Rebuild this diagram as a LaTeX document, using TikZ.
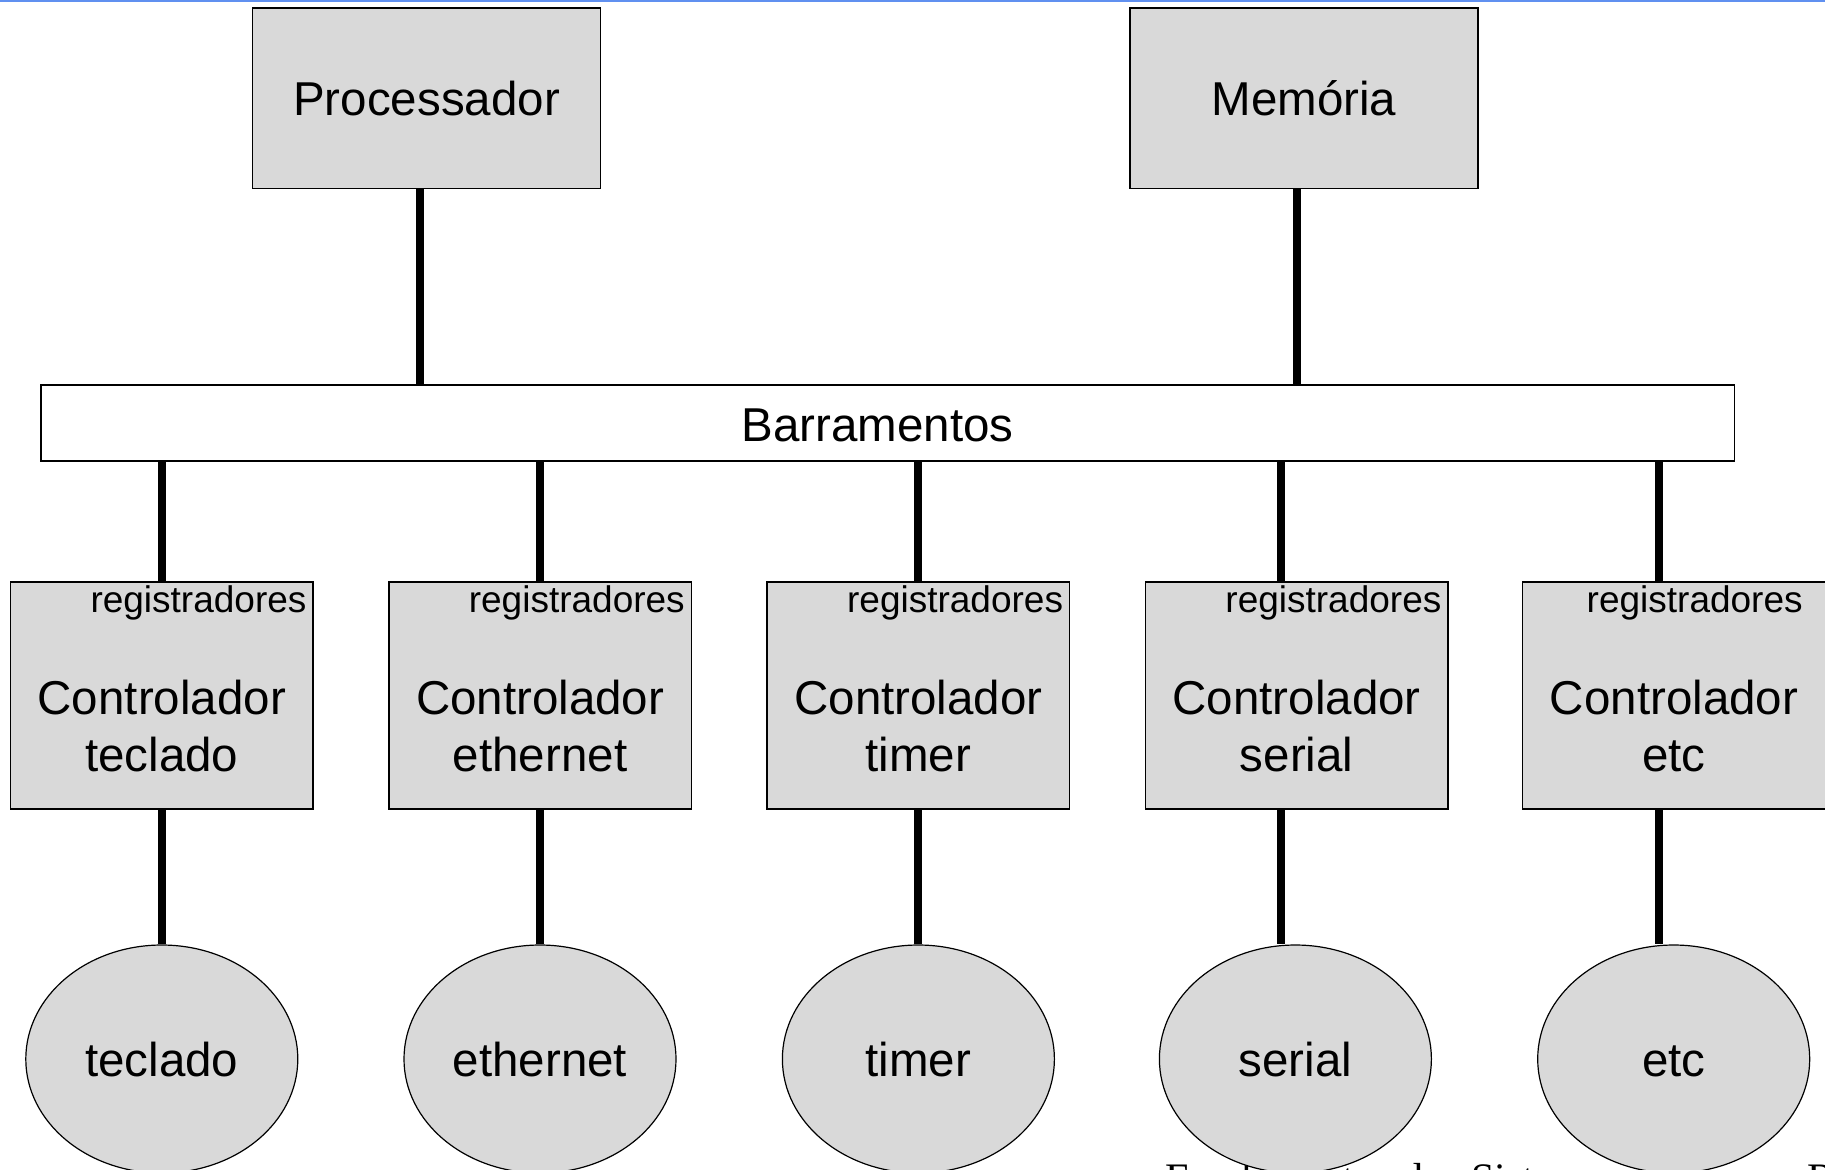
\documentclass[tikz,border=0pt]{standalone}
\usepackage{fontspec}
\setmainfont{Liberation Sans}
\newfontfamily\footfont{Liberation Serif}
\usetikzlibrary{shapes.geometric,calc}
\definecolor{boxgray}{RGB}{217,217,217}
\definecolor{topblue}{RGB}{96,144,240}
\tikzset{
  topbox/.style={draw=black,line width=0.75pt,fill=boxgray,inner sep=0pt,
    minimum width=174pt,minimum height=90.25pt,font=\fontsize{23.75pt}{28.5pt}\selectfont},
  busbox/.style={draw=black,line width=0.75pt,fill=white,inner sep=0pt,
    minimum width=846.75pt,minimum height=37.8pt},
  ctrlbox/.style={draw=black,line width=0.75pt,fill=boxgray,inner sep=0pt,
    minimum width=151.3pt,minimum height=113.5pt},
  devell/.style={ellipse,draw=black,line width=0.6pt,fill=boxgray,inner sep=0pt,
    minimum width=136pt,minimum height=114pt,text height=17pt,text depth=0pt,
    font=\fontsize{23.75pt}{28.5pt}\selectfont},
  bigtxt/.style={inner sep=0pt,align=center,font=\fontsize{23.75pt}{28.5pt}\selectfont},
  regtxt/.style={inner sep=0pt,anchor=base east,font=\fontsize{18.5pt}{22pt}\selectfont},
  conn/.style={line width=4pt,black}
}
\begin{document}
\begin{tikzpicture}[x=0.5pt,y=-0.5pt]
\useasboundingbox (0,0) rectangle (1825,1169);
\clip (0,0) rectangle (1825,1169);
\draw[topblue,line width=1pt] (0,1) -- (1825,1);

% top boxes
\node[topbox] (proc) at (426.6,98.3) {Processador};
\node[topbox] (mem) at (1304,98.3) {Memória};
% bus
\node[busbox] (bus) at (887.5,423) {};
\node[bigtxt] (bust) at (877.5,425) {Barramentos};

% controllers
\foreach \i/\x/\nm/\dx/\rx in {1/161.8/teclado/0/7, 2/540.1/ethernet/0/7, 3/918.4/timer/0/7, 4/1296.7/serial/-15.5/7, 5/1674/etc/-15.5/23}{
  \node[ctrlbox] (c\i) at (\x,695.5) {};
  \node[bigtxt] (c\i t) at (\x,726.5) {Controlador\\\nm};
  \node[regtxt] (c\i r) at ($(c\i.north east)+(-\rx,31)$) {registradores};
  \coordinate (u\i) at ($(c\i.north)+(\dx,0)$);
}

% footer text (partly hidden)
\node[inner sep=0pt,anchor=base west,font=\footfont\fontsize{21pt}{25pt}\selectfont] (foot) at (1165,1192) {Fundamentos dos Sistemas de Tempo Real};

% devices
\node[devell] (e1) at (161.8,1059) {teclado};
\node[devell] (e2) at (540,1059) {ethernet};
\node[devell] (e3) at (918.4,1059) {timer};
\node[devell] (e4) at (1295.4,1059) {serial};
\node[devell] (e5) at (1673.7,1059) {etc};

% connectors
\coordinate (pj) at ($(proc.south)+(-7,0)$);
\coordinate (mj) at ($(mem.south)+(-7,0)$);
\draw[conn] (pj) -- (pj |- bus.north);
\draw[conn] (mj) -- (mj |- bus.north);
\foreach \i in {1,...,5}{
  \draw[conn] (u\i |- bus.south) -- (u\i);
  \draw[conn] (u\i |- c\i.south) -- (u\i |- e\i.north);
}
\end{tikzpicture}
\end{document}
